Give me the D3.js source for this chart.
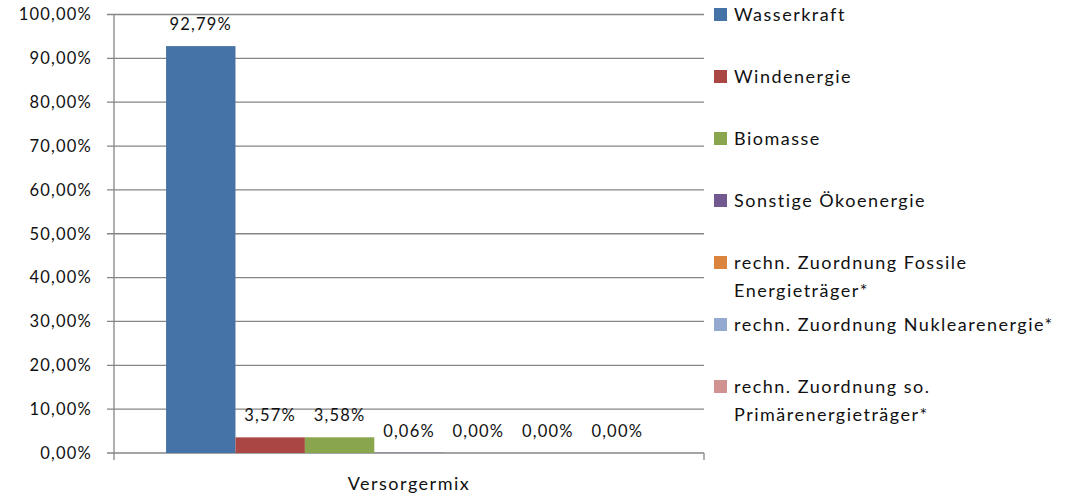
<!DOCTYPE html>
<html><head><meta charset="utf-8">
<script src="https://cdn.jsdelivr.net/npm/d3@7"></script>
<style>
body{margin:0;background:#fff;}
text{font-family:Lato, "Open Sans", sans-serif;font-size:16.5px;fill:#111;letter-spacing:1.2px;}
text.word{font-size:18px;letter-spacing:1.5px;}
</style></head>
<body><svg id="c" width="1068" height="498"></svg>
<script>
const category = "Versorgermix";
const series = ["Wasserkraft","Windenergie","Biomasse","Sonstige Ökoenergie","rechn. Zuordnung Fossile Energieträger*","rechn. Zuordnung Nuklearenergie*","rechn. Zuordnung so. Primärenergieträger*"];
const legendLines = [["Wasserkraft"],["Windenergie"],["Biomasse"],["Sonstige Ökoenergie"],["rechn. Zuordnung Fossile","Energieträger*"],["rechn. Zuordnung Nuklearenergie*"],["rechn. Zuordnung so.","Primärenergieträger*"]];
const values = [92.79,3.57,3.58,0.06,0.00,0.00,0.00];
const colors = ["#4572A7","#AA4643","#89A54E","#71588F","#DB843D","#93A9CF","#D19392"];
const yTicks = [0,10,20,30,40,50,60,70,80,90,100];

const svg = d3.select("#c");
const L=114,R=704,T=14.5,B=453;
const fmt = v => v.toFixed(2).replace(".",",")+"%";
const y = d3.scaleLinear().domain([0,100]).range([B,T]);
const x0 = d3.scaleBand().domain([category]).range([L,R]);
// Excel gap 150%: outer padding each side = 0.75 bar width
const bw = x0.bandwidth()/(series.length+1.5);
const xs = d3.scaleBand().domain(series).range([x0(category)+0.75*bw, x0(category)+x0.bandwidth()-0.75*bw]).padding(0);

// gridlines
const g = svg.append("g");
g.selectAll("line.grid").data(yTicks).join("line")
 .attr("x1",L-7).attr("x2",R).attr("y1",d=>y(d)).attr("y2",d=>y(d))
 .attr("stroke","#868686").attr("stroke-width",1.3);
// axes
g.append("line").attr("x1",L).attr("x2",L).attr("y1",T).attr("y2",B+7).attr("stroke","#868686").attr("stroke-width",1.3);
g.append("line").attr("x1",R).attr("x2",R).attr("y1",B).attr("y2",B+7).attr("stroke","#868686").attr("stroke-width",1.3);
g.selectAll("text.yl").data(yTicks).join("text")
 .attr("x",92).attr("y",d=>y(d)).attr("dy","0.35em").attr("text-anchor","end").text(d=>fmt(d));

// bars
svg.selectAll("rect.bar").data(values).join("rect")
 .attr("x",(d,i)=>xs(series[i])).attr("width",xs.bandwidth())
 .attr("y",d=>y(d)).attr("height",d=>B-y(d)).attr("fill",(d,i)=>colors[i]);
svg.selectAll("text.lbl").data(values).join("text")
 .attr("x",(d,i)=>xs(series[i])+xs.bandwidth()/2).attr("y",d=>y(d)-16)
 .attr("text-anchor","middle").text(d=>fmt(d));

// x label
svg.append("text").attr("class","word").attr("x",(L+R)/2).attr("y",490).attr("text-anchor","middle").text(category);

// legend
const lg = svg.append("g");
legendLines.forEach((lines,i)=>{
  const cy = 14.5 + 62*i;
  lg.append("rect").attr("x",714).attr("y",cy-6.5).attr("width",13).attr("height",13).attr("fill",colors[i]);
  lines.forEach((t,j)=>{
    lg.append("text").attr("class","word").attr("x",734).attr("y",cy+j*28).attr("dy","0.35em").text(t);
  });
});
</script></body></html>
